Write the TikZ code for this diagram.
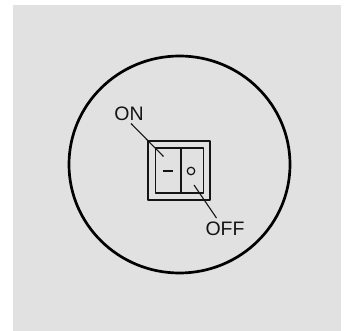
\documentclass[tikz,border=0pt]{standalone}
\usepackage{fontspec}
\setmainfont{Liberation Sans}
\definecolor{panel}{HTML}{E1E1E1}
\definecolor{ink}{HTML}{141414}
\tikzset{
  lbl/.style={font=\fontsize{19.5}{21}\selectfont, text=ink, inner sep=0pt},
  ln/.style={draw=ink, line width=1.1pt},
  frame/.style={draw=ink, line width=1.2pt, line join=round}
}
\begin{document}
\begin{tikzpicture}[x=1pt,y=-1pt]
\useasboundingbox (0,0) rectangle (351,331);
\fill[white] (0,0) rectangle (351,331);
\fill[panel] (13,5) rectangle (341,331);
\draw[black, line width=2.7pt] (179.5,164.5) ellipse [x radius=110.5, y radius=108.5];
\draw[frame] (148,141) rectangle (210,200);
\draw[frame] (155.5,148) rectangle (203.5,193);
\draw[frame] (181,148) -- (181,193);
\coordinate (dashL) at (162.5,171);
\coordinate (dashR) at (173,171);
\draw[ln] (dashL) -- (dashR);
\node[draw=ink, line width=1.2pt, circle, minimum size=7.5pt, inner sep=0pt] (offmark) at (191,171) {};
\node[lbl] (on) at (129,114) {ON};
\node[lbl] (off) at (225,229) {OFF};
\coordinate (onA) at (131,123.5);
\coordinate (onB) at (163.5,156.5);
\coordinate (offA) at (194,185);
\coordinate (offB) at (216.5,218);
\draw[ln] (onA) -- (onB);
\draw[ln] (offA) -- (offB);
\end{tikzpicture}
\end{document}
